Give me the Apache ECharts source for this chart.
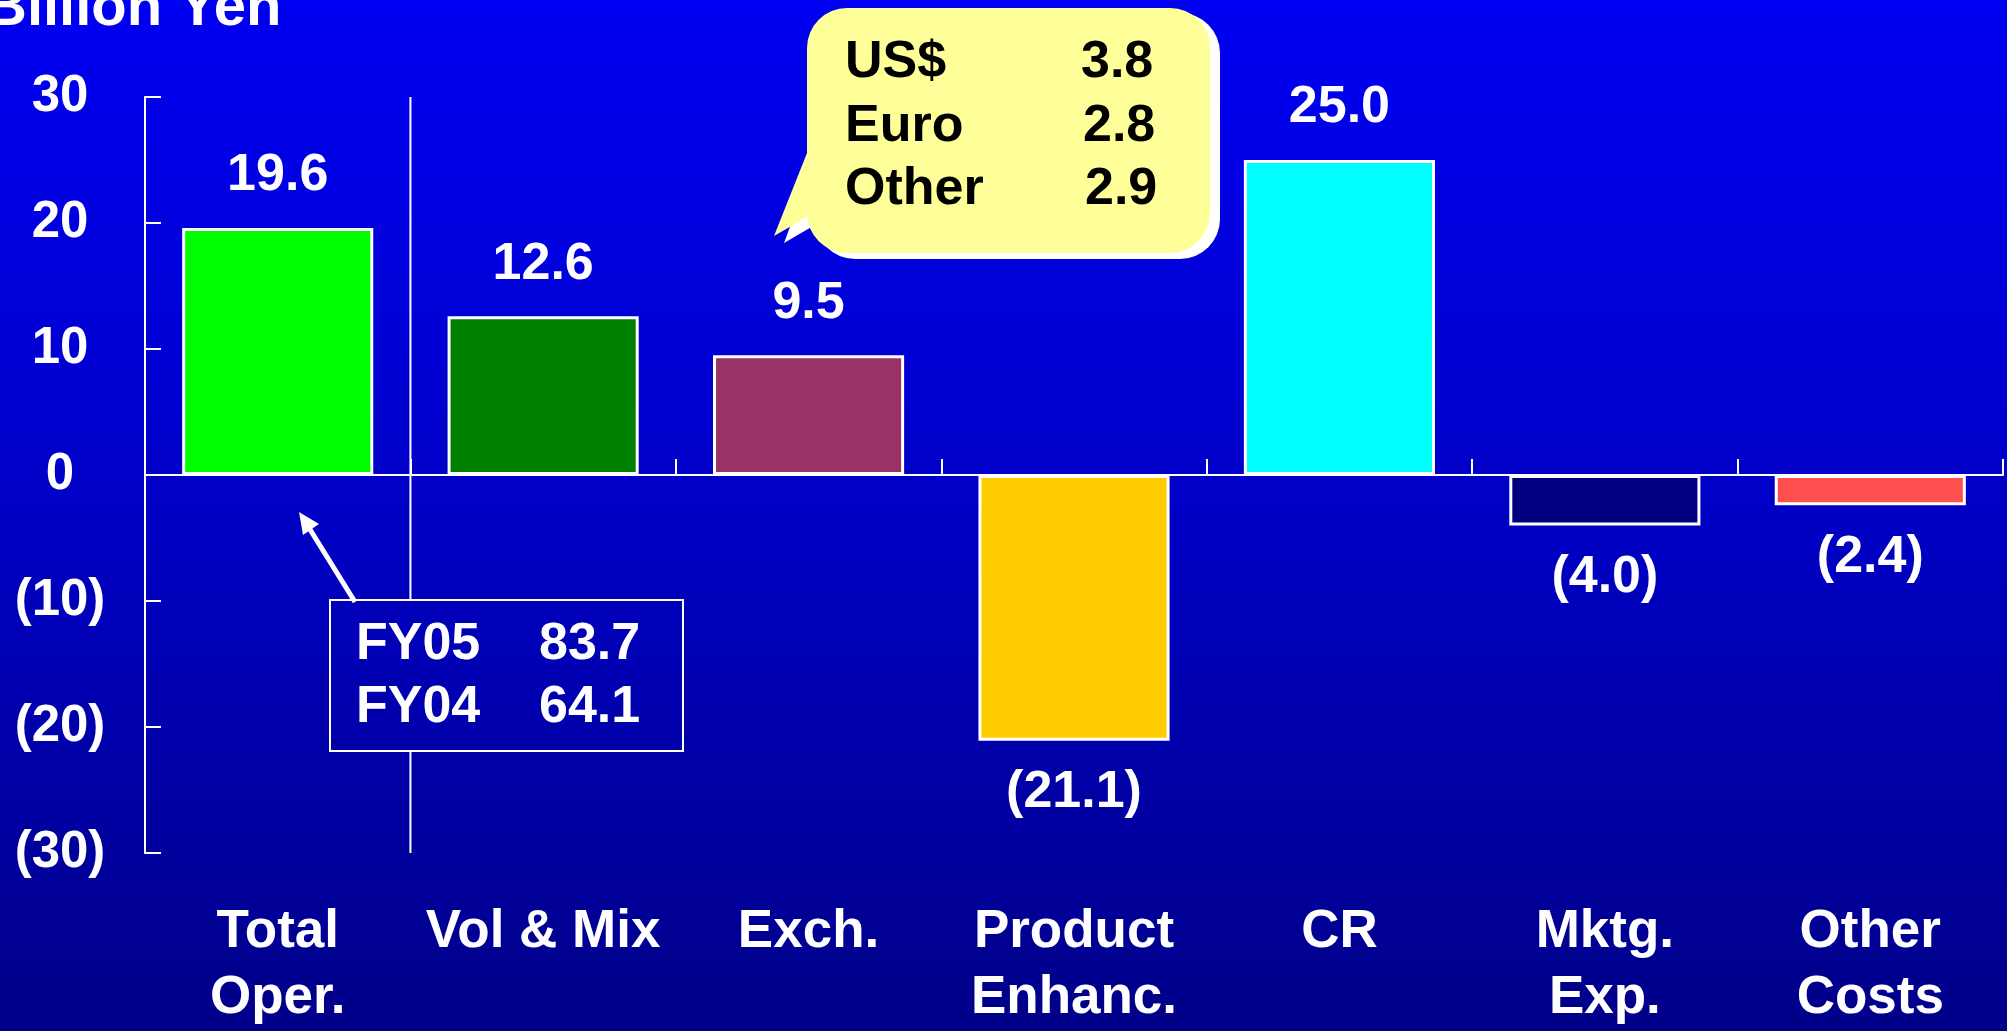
<!DOCTYPE html>
<html><head><meta charset="utf-8">
<script src="https://cdn.jsdelivr.net/npm/echarts@6/dist/echarts.min.js"></script>
<style>html,body{margin:0;padding:0;overflow:hidden;background:#0000c8}#c{width:2007px;height:1031px}</style>
</head><body><div id="c"></div>
<script>
const categories = ['Total\nOper.', 'Vol & Mix', 'Exch.', 'Product\nEnhanc.', 'CR', 'Mktg.\nExp.', 'Other\nCosts'];
const values = [19.6, 12.6, 9.5, -21.1, 25.0, -4.0, -2.4];
const barColors = ['#00FF00', '#008000', '#993366', '#FFCC00', '#00FFFF', '#000080', '#FF5050'];
const yMin = -30, yMax = 30, yInterval = 10;
const fxNames = ['US$', 'Euro', 'Other'];
const fxValues = [3.8, 2.8, 2.9];
const fyNames = ['FY05', 'FY04'];
const fyValues = [83.7, 64.1];
const unitTitle = 'Billion Yen';

const FONT = '"Liberation Sans", Arial, sans-serif';
const bgStops = [{offset:0,color:'#0000F2'},{offset:0.47,color:'#0000C8'},{offset:1,color:'#000088'}];
function fmt(v){ return v < 0 ? '(' + Math.abs(v).toFixed(1) + ')' : v.toFixed(1); }
function fmtAxis(v){ return v < 0 ? '(' + Math.abs(v) + ')' : String(v); }

const chart = echarts.init(document.getElementById('c'), null, {renderer:'canvas'});
const option = {
  backgroundColor: {type:'linear', x:0, y:0, x2:0, y2:1, colorStops: bgStops},
  animation: false,
  grid: {left:145, right:4, top:97, bottom:170, containLabel:false},
  xAxis: [
    {type:'category', data:categories, position:'bottom',
     axisLine:{show:false, onZero:false}, axisTick:{show:false},
     axisLabel:{interval:0, color:'#fff', fontFamily:FONT, fontWeight:'bold', fontSize:53, lineHeight:66, margin:46}},
    {type:'category', data:categories, position:'bottom',
     axisLine:{show:true, onZero:true, lineStyle:{color:'#fff', width:2}},
     axisTick:{show:true, inside:true, length:16, interval:0, lineStyle:{color:'#fff', width:2}},
     axisLabel:{show:false}}
  ],
  yAxis: {type:'value', min:yMin, max:yMax, interval:yInterval,
    axisLine:{show:true, lineStyle:{color:'#fff', width:2}},
    axisTick:{show:true, inside:true, length:16, lineStyle:{color:'#fff', width:2}},
    splitLine:{show:false},
    axisLabel:{color:'#fff', fontFamily:FONT, fontWeight:'bold', fontSize:51, align:'center', margin:85, padding:[4,0,0,0], formatter:fmtAxis}},
  series: [{
    type:'bar', xAxisIndex:0, barCategoryGap:'28%',
    data: values.map((v,i)=>({value:v, itemStyle:{color:barColors[i]}, label:{position: v<0?'bottom':'top'}})),
    itemStyle:{borderColor:'#fff', borderWidth:3},
    label:{show:true, distance:26, color:'#fff', fontFamily:FONT, fontWeight:'bold', fontSize:52, formatter:p=>fmt(p.value)}
  }]
};
chart.setOption(option);

const x0 = chart.convertToPixel({xAxisIndex:0}, categories[0]);
const x1 = chart.convertToPixel({xAxisIndex:0}, categories[1]);
const sep = (x0 + x1) / 2;
const yTop = chart.convertToPixel({yAxisIndex:0}, yMax);
const yBot = chart.convertToPixel({yAxisIndex:0}, yMin);
const globalBg = {type:'linear', x:0, y:0, x2:0, y2:1031, global:true, colorStops:bgStops};
const txt = (t, x, y, fill, size, align) => ({type:'text', z:20, style:{text:t, x:x, y:y, fill:fill, font:'bold '+size+'px '+FONT, textAlign:align||'left', textVerticalAlign:'middle'}});

const g = [];
g.push({type:'text', z:20, style:{text:unitTitle, x:-15, y:9, fill:'#fff', font:'bold 58px '+FONT, textVerticalAlign:'middle'}});
g.push({type:'line', z:5, shape:{x1:sep, y1:yTop, x2:sep, y2:yBot}, style:{stroke:'#fff', lineWidth:2}});
// bubble shadow
g.push({type:'polygon', z:10, shape:{points:[[817,154],[784,243],[820,222]]}, style:{fill:'#fff'}});
g.push({type:'rect', z:10, shape:{x:815, y:13, width:405, height:246, r:40}, style:{fill:'#fff'}});
// bubble
g.push({type:'polygon', z:11, shape:{points:[[809,148],[774,236],[812,214]]}, style:{fill:'#FFFF99'}});
g.push({type:'rect', z:11, shape:{x:807, y:8, width:403, height:245, r:40}, style:{fill:'#FFFF99'}});
fxNames.forEach((n,i)=>{
  g.push(txt(n, 845, 63 + i*63.5, '#000', 52));
  g.push(txt(fxValues[i].toFixed(1), 1081 + i*2, 63 + i*63.5, '#000', 52));
});
// FY box
g.push({type:'rect', z:6, shape:{x:330, y:600, width:353, height:151}, style:{fill:globalBg, stroke:'#fff', lineWidth:2}});
fyNames.forEach((n,i)=>{
  g.push(txt(n, 356, 645 + i*63, '#fff', 52));
  g.push(txt(fyValues[i].toFixed(1), 539, 645 + i*63, '#fff', 52));
});
// arrow
g.push({type:'line', z:7, shape:{x1:355, y1:602, x2:306, y2:523}, style:{stroke:'#fff', lineWidth:5}});
g.push({type:'polygon', z:7, shape:{points:[[299,512],[319,524],[303,535]]}, style:{fill:'#fff'}});
chart.setOption({graphic:g});
</script></body></html>
